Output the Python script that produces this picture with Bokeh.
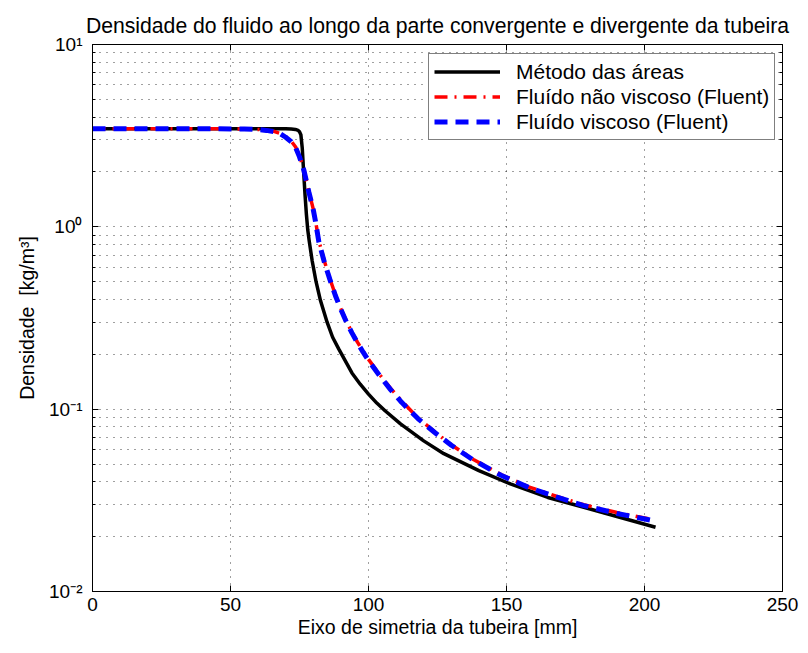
from bokeh.plotting import figure
from bokeh.models import (LinearAxis, LogAxis, FixedTicker, Legend, LegendItem,
                          Range1d, CustomJSTickFormatter, ColumnDataSource)
from bokeh.embed import file_html
from bokeh.resources import INLINE

# ---------------- data ----------------
x_metodo = [0, 20, 40, 60, 70, 72, 73.5, 74.5, 75.0, 75.5, 76.0, 76.5, 77.0, 77.5, 78.0,
            78.5, 79.6, 81, 82.6, 85, 87, 89.2, 91.5, 94, 97, 100, 103, 106, 111.6, 120,
            127.3, 140, 151.4, 165, 178, 190, 204]
rho_metodo = [3.45, 3.45, 3.45, 3.45, 3.45, 3.44, 3.42, 3.38, 3.32, 3.2, 2.7, 2.0, 1.5,
              1.17, 0.96, 0.84, 0.65, 0.5, 0.394, 0.30, 0.248, 0.214, 0.185, 0.158,
              0.137, 0.121, 0.108, 0.098, 0.083, 0.067, 0.057, 0.046, 0.0389, 0.0328,
              0.0290, 0.0258, 0.0225]

x_nao_viscoso = [0, 20, 40, 55, 60, 63, 66, 68, 70, 72, 73.6, 75, 76.6, 78.4, 80, 80.8,
                 82, 84, 86, 88, 90, 92, 94, 96, 98, 100, 104, 108, 112, 118, 124, 130,
                 138, 148, 158, 168, 178, 190, 203.5]
rho_nao_viscoso = [3.45, 3.45, 3.45, 3.44, 3.42, 3.39, 3.33, 3.25, 3.12, 2.95, 2.74, 2.45,
                   2.06, 1.56, 1.25, 1.08, 0.84, 0.65, 0.52, 0.424, 0.356, 0.304, 0.264,
                   0.233, 0.208, 0.1875, 0.155, 0.130, 0.111, 0.0893, 0.0750, 0.0638,
                   0.0530, 0.0438, 0.0375, 0.0333, 0.0299, 0.0271, 0.0247]

x_viscoso = [0, 20, 40, 55, 60, 63, 66, 68, 70, 72, 73.6, 75, 76.6, 78.4, 80, 80.8,
             82, 84, 86, 88, 90, 92, 94, 96, 98, 100, 104, 108, 112, 118, 124, 130,
             138, 148, 158, 168, 178, 190, 203.5]
rho_viscoso = [3.45, 3.45, 3.45, 3.44, 3.42, 3.38, 3.32, 3.24, 3.10, 2.93, 2.72, 2.42,
               2.04, 1.55, 1.24, 1.07, 0.83, 0.64, 0.515, 0.42, 0.352, 0.301, 0.262,
               0.231, 0.206, 0.185, 0.153, 0.128, 0.109, 0.0885, 0.0745, 0.0634,
               0.0526, 0.0434, 0.0372, 0.0330, 0.0296, 0.0268, 0.0244]

x_ticks = [0, 50, 100, 150, 200, 250]
y_ticks = [0.01, 0.1, 1, 10]
y_tick_labels = ["10\u207b\u00b2", "10\u207b\u00b9", "10\u2070", "10\u00b9"]
y_minor_ticks = [m * d for d in (0.01, 0.1, 1) for m in range(2, 10)]

series_labels = ["Método das áreas", "Fluído não viscoso (Fluent)", "Fluído viscoso (Fluent)"]

FONT = "Liberation Sans"

p = figure(width=800, height=645, y_axis_type="log",
           x_range=Range1d(0, 250), y_range=Range1d(0.01, 10),
           output_backend="svg", toolbar_location=None,
           min_border_left=92, min_border_right=18, min_border_top=44, min_border_bottom=54)

p.title.text = "Densidade do fluido ao longo da parte convergente e divergente da tubeira"
p.title.align = "center"
p.title.text_font = FONT
p.title.text_font_size = "21.2px"
p.title.text_font_style = "normal"
p.title.text_color = "black"
p.title.standoff = 16

p.outline_line_color = "black"
p.outline_line_alpha = 1.0
p.background_fill_color = "white"
p.border_fill_color = "white"

xt = FixedTicker(ticks=x_ticks)
yt = FixedTicker(ticks=y_ticks, minor_ticks=y_minor_ticks)
yfmt = CustomJSTickFormatter(args=dict(vals=y_ticks, labs=y_tick_labels), code="""
const i = vals.findIndex(v => Math.abs(Math.log10(v) - Math.log10(tick)) < 1e-6);
return i >= 0 ? labs[i] : '';
""")

xa = p.xaxis[0]
xa.ticker = xt
xa.axis_label = "Eixo de simetria da tubeira [mm]"
ya = p.yaxis[0]
ya.ticker = yt
ya.formatter = yfmt
ya.axis_label = "Densidade\u00a0 [kg/m³]"

for ax in (xa, ya):
    ax.axis_line_color = "black"
    ax.major_tick_in = 6
    ax.major_tick_out = 0
    ax.minor_tick_in = 3
    ax.minor_tick_out = 0
    ax.major_tick_line_color = "black"
    ax.major_label_text_font = FONT
    ax.major_label_text_font_size = "19px"
    ax.major_label_text_color = "black"
    ax.axis_label_text_font = FONT
    ax.axis_label_text_font_size = "19.5px"
    ax.axis_label_text_font_style = "normal"
    ax.axis_label_text_color = "black"
xa.minor_tick_line_color = None
xa.major_label_standoff = 6
xa.axis_label_standoff = 2
ya.major_label_standoff = 10
ya.axis_label_standoff = 8
ya.minor_tick_line_color = "black"

top = LinearAxis(ticker=FixedTicker(ticks=x_ticks), major_tick_in=6, major_tick_out=0,
                 minor_tick_line_color=None, major_label_text_font_size="1px",
                 major_label_text_color=None, major_label_standoff=0,
                 axis_line_color="black")
right = LogAxis(ticker=FixedTicker(ticks=y_ticks, minor_ticks=y_minor_ticks),
                major_tick_in=6, major_tick_out=0, minor_tick_in=3, minor_tick_out=0,
                major_label_text_font_size="1px", major_label_text_color=None,
                major_label_standoff=0, axis_line_color="black")
p.add_layout(top, "above")
p.add_layout(right, "right")

p.xgrid.ticker = xt
p.ygrid.ticker = yt
for g in (p.xgrid[0], p.ygrid[0]):
    g.grid_line_color = "black"
    g.grid_line_alpha = 0.75
    g.grid_line_dash = "1 6"
    g.grid_line_width = 1
p.ygrid[0].minor_grid_line_color = "black"
p.ygrid[0].minor_grid_line_alpha = 0.75
p.ygrid[0].minor_grid_line_dash = "1 6"

s1 = ColumnDataSource(dict(x=x_metodo, y=rho_metodo))
s2 = ColumnDataSource(dict(x=x_nao_viscoso, y=rho_nao_viscoso))
s3 = ColumnDataSource(dict(x=x_viscoso, y=rho_viscoso))

r1 = p.line("x", "y", source=s1, line_color="black", line_width=3.5, line_join="round")
r2 = p.line("x", "y", source=s2, line_color="#ff0000", line_width=3.5, line_dash="13 7 2 7")
r3 = p.line("x", "y", source=s3, line_color="#0000ff", line_width=5, line_dash="13 8")

legend = Legend(items=[LegendItem(label=series_labels[0], renderers=[r1]),
                       LegendItem(label=series_labels[1], renderers=[r2]),
                       LegendItem(label=series_labels[2], renderers=[r3])],
                location=(336, 451))
legend.border_line_color = "black"
legend.border_line_width = 1
legend.background_fill_color = "white"
legend.background_fill_alpha = 1.0
legend.label_text_font = FONT
legend.label_text_font_size = "21px"
legend.label_text_color = "black"
legend.padding = 5
legend.spacing = 0
legend.margin = 0
legend.label_height = 25
legend.glyph_height = 25
legend.glyph_width = 66
legend.label_standoff = 16
p.add_layout(legend, "center")

open("out.html", "w").write(file_html(p, INLINE))
